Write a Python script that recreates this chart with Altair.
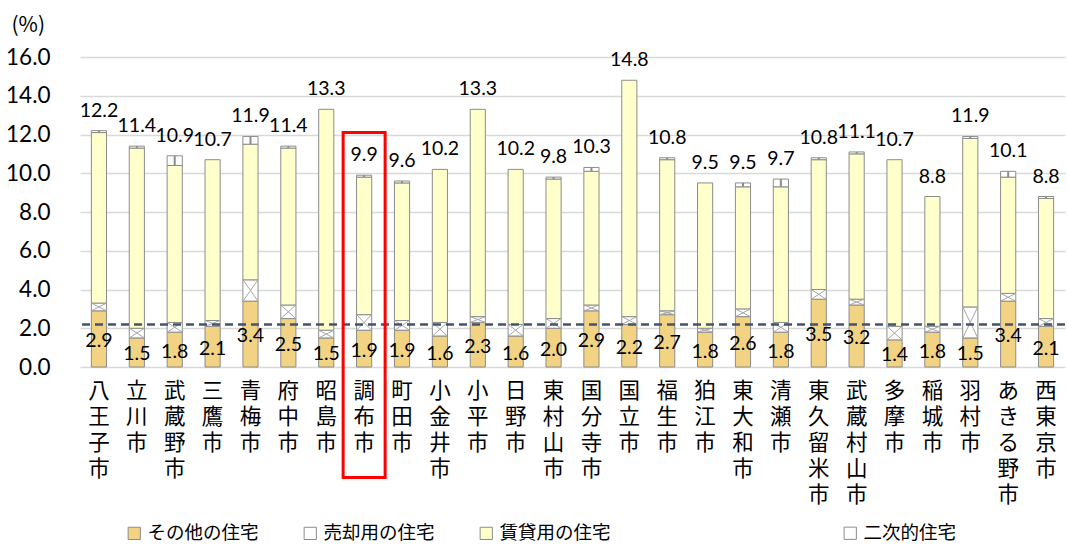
import altair as alt
import pandas as pd

# Vacant-housing rate by municipality (Tama area), by type of vacancy (%)
cities = ["八王子市", "立川市", "武蔵野市", "三鷹市", "青梅市", "府中市", "昭島市",
          "調布市", "町田市", "小金井市", "小平市", "日野市", "東村山市", "国分寺市",
          "国立市", "福生市", "狛江市", "東大和市", "清瀬市", "東久留米市", "武蔵村山市",
          "多摩市", "稲城市", "羽村市", "あきる野市", "西東京市"]

total = [12.2, 11.4, 10.9, 10.7, 11.9, 11.4, 13.3, 9.9, 9.6, 10.2, 13.3, 10.2, 9.8,
         10.3, 14.8, 10.8, 9.5, 9.5, 9.7, 10.8, 11.1, 10.7, 8.8, 11.9, 10.1, 8.8]
other = [2.9, 1.5, 1.8, 2.1, 3.4, 2.5, 1.5, 1.9, 1.9, 1.6, 2.3, 1.6, 2.0,
         2.9, 2.2, 2.7, 1.8, 2.6, 1.8, 3.5, 3.2, 1.4, 1.8, 1.5, 3.4, 2.1]
for_sale = [0.4, 0.5, 0.5, 0.3, 1.1, 0.7, 0.4, 0.8, 0.5, 0.7, 0.3, 0.6, 0.5,
            0.3, 0.4, 0.2, 0.2, 0.4, 0.5, 0.5, 0.3, 0.7, 0.3, 1.6, 0.4, 0.4]
for_rent = [8.8, 9.3, 8.1, 8.3, 7.0, 8.1, 11.4, 7.1, 7.1, 7.9, 10.7, 8.0, 7.2,
            6.9, 12.2, 7.8, 7.5, 6.3, 7.0, 6.7, 7.5, 8.6, 6.7, 8.7, 6.0, 6.2]
secondary = [0.1, 0.1, 0.5, 0.0, 0.4, 0.1, 0.0, 0.1, 0.1, 0.0, 0.0, 0.0, 0.1,
             0.2, 0.0, 0.1, 0.0, 0.2, 0.4, 0.1, 0.1, 0.0, 0.0, 0.1, 0.3, 0.1]

tokyo_average = 2.2
highlight_city = "調布市"

kinds = ["その他の住宅", "売却用の住宅", "賃貸用の住宅", "二次的住宅"]
main_colors = ["#F2D383", "#FFFFFF", "#FFFFCC"]
JP = "Noto Sans CJK JP"
NUM = "Lato"
EDGE = "#8c8c8c"

# long table with stacked start/end per segment
rows = []
for i, c in enumerate(cities):
    base = 0.0
    for k, vals in zip(kinds, [other, for_sale, for_rent, secondary]):
        v = vals[i]
        rows.append({"city": c, "kind": k, "value": v,
                     "start": base, "end": base + v, "mid": base + v / 2})
        base += v
seg = pd.DataFrame(rows)
seg = seg[seg["value"] > 0]
main = seg[seg["kind"] != "二次的住宅"]
sec = seg[seg["kind"] == "二次的住宅"]
sale = seg[seg["kind"] == "売却用の住宅"]
oth = seg[seg["kind"] == "その他の住宅"]

tot = pd.DataFrame({"city": cities, "total": total})
avg = pd.DataFrame({"avg": [tokyo_average]})
frame = pd.DataFrame({"city": [highlight_city], "top": [12.1], "bottom": [-5.7]})

xscale = alt.Scale(domain=cities, paddingInner=0.6, paddingOuter=0.3)
xaxis = alt.Axis(title=None, labelExpr="split(datum.label, '')", labelAngle=0,
                 labelBaseline="top", labelLineHeight=26, labelFontSize=21.5,
                 labelFont=JP, labelColor="black", labelPadding=13,
                 ticks=False, domain=False, grid=False, labelOverlap=False)
X = alt.X("city:N", scale=xscale, axis=xaxis, sort=cities)
yscale = alt.Scale(domain=[0, 16], nice=False, zero=True)
yaxis = alt.Axis(values=[0, 2, 4, 6, 8, 10, 12, 14, 16], format=".1f", title="(%)",
                 titleAngle=0, titleX=-69, titleY=-32, titleAlign="left",
                 titleBaseline="middle", titleFontSize=21, titleFontWeight="normal",
                 titleFont=JP, titleColor="black", labelFontSize=22.5, labelFont=NUM,
                 labelColor="black", labelPadding=30, ticks=False, domain=False,
                 gridColor="#d9d9d9", gridWidth=1.5)


def Y(field):
    return alt.Y(field, type="quantitative", scale=yscale, axis=yaxis)


legend_common = dict(orient="none", direction="horizontal", title=None,
                     symbolType="square", symbolSize=150, symbolStrokeColor=EDGE,
                     symbolStrokeWidth=1, labelFont=JP, labelFontSize=18.5,
                     labelColor="black", labelOffset=4, columnPadding=42,
                     legendY=467)

bars = alt.Chart(main).mark_bar(stroke=EDGE, strokeWidth=1).encode(
    x=X, y=Y("start"), y2="end",
    fill=alt.Fill("kind:N", scale=alt.Scale(domain=kinds[:3], range=main_colors),
                  legend=alt.Legend(legendX=45, **legend_common)),
)

sec_bars = alt.Chart(sec).mark_bar(stroke=EDGE, strokeWidth=1).encode(
    x=X, y=Y("start"), y2="end",
    fill=alt.Fill("kind:N", scale=alt.Scale(domain=kinds[3:], range=["#FFFFFF"]),
                  legend=alt.Legend(legendX=761, **legend_common)),
)

# cross hatch on the for-sale segments
cross_a = alt.Chart(sale).mark_rule(color="#a6a6a6", strokeWidth=1,
                                    xOffset=-7.5, x2Offset=7.5).encode(
    x=X, x2="city:N", y=Y("start"), y2="end")
cross_b = alt.Chart(sale).mark_rule(color="#a6a6a6", strokeWidth=1,
                                    xOffset=-7.5, x2Offset=7.5).encode(
    x=X, x2="city:N", y=Y("end"), y2="start")

# vertical stripe on the secondary-housing segments
stripe = alt.Chart(sec).mark_rule(color="#8c8c8c", strokeWidth=2).encode(
    x=X, y=Y("start"), y2="end")

avg_line = alt.Chart(avg).mark_rule(color="#44546A", strokeWidth=2.5,
                                    strokeDash=[8, 5]).encode(y=Y("avg"))

top_labels = alt.Chart(tot).mark_text(dy=-20, fontSize=19.5, font=NUM, color="black",
                                      baseline="middle").encode(
    x=X, y=Y("total"), text=alt.Text("total:Q", format=".1f"))

other_labels = alt.Chart(oth).mark_text(dy=2, fontSize=19.5, font=NUM, color="black",
                                        baseline="middle").encode(
    x=X, y=Y("mid"), text=alt.Text("value:Q", format=".1f"))

highlight = alt.Chart(frame).mark_bar(width=42, fillOpacity=0, stroke="#ff0000",
                                      strokeWidth=3).encode(
    x=X, y=Y("top"), y2="bottom")

chart = alt.layer(
    bars, sec_bars, cross_a, cross_b, stripe, avg_line, top_labels, other_labels, highlight
).resolve_scale(fill="independent").properties(
    width=985, height=310,
    autosize=alt.AutoSizeParams(type="none"),
    padding={"left": 80, "top": 57, "right": 2, "bottom": 180},
    background="white",
).configure_view(strokeWidth=0)

chart.save("out.html", embed_options={"renderer": "svg", "actions": False})
